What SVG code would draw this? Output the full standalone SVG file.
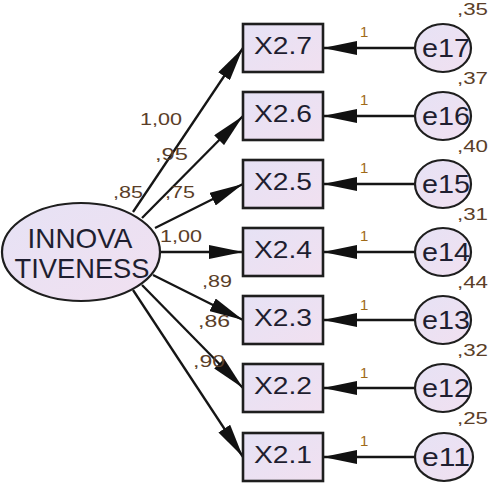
<svg xmlns="http://www.w3.org/2000/svg" width="491" height="489" viewBox="0 0 491 489">
<defs>
<linearGradient id="g" x1="0" y1="0" x2="1" y2="1">
<stop offset="0" stop-color="#e6e2f5"/>
<stop offset="1" stop-color="#f1e0f0"/>
</linearGradient>
<marker id="ah" markerUnits="userSpaceOnUse" viewBox="0 -7 34 14" refX="34" refY="0" markerWidth="34" markerHeight="14" orient="auto">
<path d="M0,-7 L34,0 L0,7 Z" fill="#111"/>
</marker>
<style>
.box{fill:url(#g);stroke:#1e1e1e;stroke-width:2.6}
.ell{fill:url(#g);stroke:#1e1e1e;stroke-width:2.2}
.nt{font-family:"Liberation Sans",Arial,sans-serif;fill:#1e1e30}
.lb{font-family:"Liberation Sans",Arial,sans-serif;font-size:17px;fill:#5a3e28}
.one{font-family:"Liberation Sans",Arial,sans-serif;font-size:15px;fill:#a06a18}
.cn{stroke:#151515;stroke-width:2.3;fill:none;marker-end:url(#ah)}
</style>
</defs>
<rect width="491" height="489" fill="#fff"/>
<g id="connectors">
<line class="cn" x1="133" y1="212" x2="243" y2="48"/>
<line class="cn" x1="142" y1="218" x2="243" y2="116"/>
<line class="cn" x1="155" y1="228" x2="243" y2="184"/>
<line class="cn" x1="160" y1="252" x2="243" y2="252"/>
<line class="cn" x1="153" y1="275" x2="243" y2="320"/>
<line class="cn" x1="142" y1="285" x2="243" y2="388"/>
<line class="cn" x1="133" y1="290" x2="243" y2="457"/>
<line class="cn" x1="415" y1="48" x2="323" y2="48"/>
<line class="cn" x1="415" y1="116" x2="323" y2="116"/>
<line class="cn" x1="415" y1="184" x2="323" y2="184"/>
<line class="cn" x1="415" y1="252" x2="323" y2="252"/>
<line class="cn" x1="415" y1="320" x2="323" y2="320"/>
<line class="cn" x1="415" y1="388" x2="323" y2="388"/>
<line class="cn" x1="415" y1="457" x2="323" y2="457"/>
</g>
<g id="labels">
<text class="lb" x="140" y="125" textLength="42" lengthAdjust="spacingAndGlyphs">1,00</text>
<text class="lb" x="155" y="160" textLength="33" lengthAdjust="spacingAndGlyphs">,95</text>
<text class="lb" x="113" y="198" textLength="30" lengthAdjust="spacingAndGlyphs">,85</text>
<text class="lb" x="165" y="198" textLength="30" lengthAdjust="spacingAndGlyphs">,75</text>
<text class="lb" x="160" y="242" textLength="42" lengthAdjust="spacingAndGlyphs">1,00</text>
<text class="lb" x="202" y="287" textLength="30" lengthAdjust="spacingAndGlyphs">,89</text>
<text class="lb" x="198" y="327" textLength="32" lengthAdjust="spacingAndGlyphs">,86</text>
<text class="lb" x="193" y="367" textLength="32" lengthAdjust="spacingAndGlyphs">,90</text>
<text class="lb" x="457" y="15" textLength="31" lengthAdjust="spacingAndGlyphs">,35</text>
<text class="lb" x="457" y="84" textLength="31" lengthAdjust="spacingAndGlyphs">,37</text>
<text class="lb" x="457" y="152" textLength="31" lengthAdjust="spacingAndGlyphs">,40</text>
<text class="lb" x="457" y="220" textLength="31" lengthAdjust="spacingAndGlyphs">,31</text>
<text class="lb" x="457" y="288" textLength="31" lengthAdjust="spacingAndGlyphs">,44</text>
<text class="lb" x="457" y="356" textLength="31" lengthAdjust="spacingAndGlyphs">,32</text>
<text class="lb" x="457" y="424" textLength="31" lengthAdjust="spacingAndGlyphs">,25</text>
<text class="one" x="360" y="37">1</text>
<text class="one" x="360" y="105">1</text>
<text class="one" x="360" y="173">1</text>
<text class="one" x="360" y="241">1</text>
<text class="one" x="360" y="310">1</text>
<text class="one" x="360" y="378">1</text>
<text class="one" x="360" y="446">1</text>
</g>
<g id="INNOVATIVENESS">
<ellipse class="ell" cx="81" cy="252" rx="79" ry="49"/>
<text class="nt" x="80" y="248" font-size="28" text-anchor="middle" textLength="105" lengthAdjust="spacingAndGlyphs">INNOVA</text>
<text class="nt" x="82" y="278" font-size="28" text-anchor="middle" textLength="135" lengthAdjust="spacingAndGlyphs">TIVENESS</text>
</g>
<g id="X2.7"><rect class="box" x="243" y="24" width="80" height="48"/><text class="nt" x="283" y="54" font-size="23" text-anchor="middle" textLength="58" lengthAdjust="spacingAndGlyphs">X2.7</text></g>
<g id="X2.6"><rect class="box" x="243" y="92" width="80" height="48"/><text class="nt" x="283" y="122" font-size="23" text-anchor="middle" textLength="58" lengthAdjust="spacingAndGlyphs">X2.6</text></g>
<g id="X2.5"><rect class="box" x="243" y="160" width="80" height="48"/><text class="nt" x="283" y="190" font-size="23" text-anchor="middle" textLength="58" lengthAdjust="spacingAndGlyphs">X2.5</text></g>
<g id="X2.4"><rect class="box" x="243" y="228" width="80" height="48"/><text class="nt" x="283" y="258" font-size="23" text-anchor="middle" textLength="58" lengthAdjust="spacingAndGlyphs">X2.4</text></g>
<g id="X2.3"><rect class="box" x="243" y="296" width="80" height="48"/><text class="nt" x="283" y="326" font-size="23" text-anchor="middle" textLength="58" lengthAdjust="spacingAndGlyphs">X2.3</text></g>
<g id="X2.2"><rect class="box" x="243" y="364" width="80" height="48"/><text class="nt" x="283" y="394" font-size="23" text-anchor="middle" textLength="58" lengthAdjust="spacingAndGlyphs">X2.2</text></g>
<g id="X2.1"><rect class="box" x="243" y="433" width="80" height="48"/><text class="nt" x="283" y="463" font-size="23" text-anchor="middle" textLength="58" lengthAdjust="spacingAndGlyphs">X2.1</text></g>
<g id="e17"><ellipse class="ell" cx="443" cy="48" rx="28" ry="24"/><text class="nt" x="446" y="57" font-size="25" text-anchor="middle" textLength="48" lengthAdjust="spacingAndGlyphs">e17</text></g>
<g id="e16"><ellipse class="ell" cx="443" cy="116" rx="28" ry="24"/><text class="nt" x="446" y="125" font-size="25" text-anchor="middle" textLength="48" lengthAdjust="spacingAndGlyphs">e16</text></g>
<g id="e15"><ellipse class="ell" cx="443" cy="184" rx="28" ry="24"/><text class="nt" x="446" y="193" font-size="25" text-anchor="middle" textLength="48" lengthAdjust="spacingAndGlyphs">e15</text></g>
<g id="e14"><ellipse class="ell" cx="443" cy="252" rx="28" ry="24"/><text class="nt" x="446" y="261" font-size="25" text-anchor="middle" textLength="48" lengthAdjust="spacingAndGlyphs">e14</text></g>
<g id="e13"><ellipse class="ell" cx="443" cy="320" rx="28" ry="24"/><text class="nt" x="446" y="329" font-size="25" text-anchor="middle" textLength="48" lengthAdjust="spacingAndGlyphs">e13</text></g>
<g id="e12"><ellipse class="ell" cx="443" cy="388" rx="28" ry="24"/><text class="nt" x="446" y="397" font-size="25" text-anchor="middle" textLength="48" lengthAdjust="spacingAndGlyphs">e12</text></g>
<g id="e11"><ellipse class="ell" cx="444" cy="457" rx="29" ry="24"/><text class="nt" x="446" y="466" font-size="25" text-anchor="middle" textLength="48" lengthAdjust="spacingAndGlyphs">e11</text></g>
</svg>
